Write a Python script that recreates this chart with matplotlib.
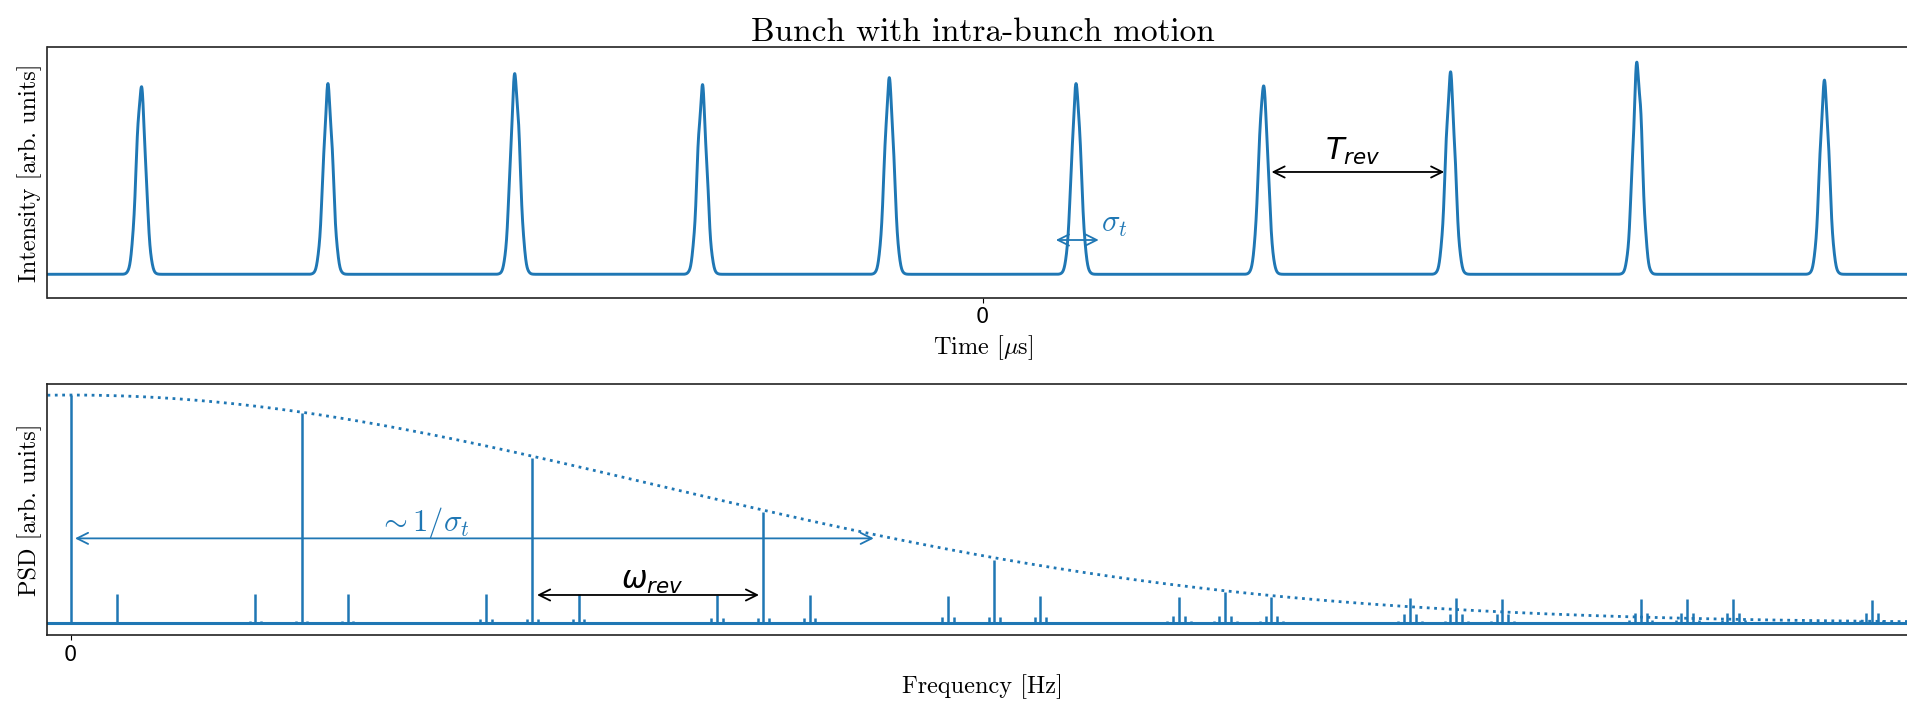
import numpy as np
import matplotlib
matplotlib.use("Agg")
import matplotlib.pyplot as plt

plt.rcParams['mathtext.fontset'] = 'cm'

# ---------------- data ----------------
# Top panel: bunches, time in units of the revolution period (tick shows only 0)
bunch_centres = [-4.5, -3.5, -2.5, -1.5, -0.5, 0.5, 1.5, 2.5, 3.5, 4.5]
bunch_heights = [1.0, 0.996, 1.061, 0.99, 1.036, 1.012, 1.009, 1.058, 1.119, 1.018]
bunch_sigma = 0.025
ripple_amp = [0.03, 0.04, 0.035, 0.045, 0.03, 0.025, 0.02, 0.04, 0.045, 0.035]
ripple_phase = [0.3, 1.9, 2.6, 0.8, 1.4, 2.2, 0.5, 1.1, 2.9, 1.7]
ripple_wavelength = 0.028

# Bottom panel: spectrum lines, frequency in units of f_rev
harmonics = [0, 1, 2, 3, 4, 5, 6, 7, 8]
main_heights = [1.0, 0.92, 0.723, 0.486, 0.277, 0.136, 0.11, 0.105, 0.10]
lower_sideband = [0.0, 0.127, 0.127, 0.125, 0.12, 0.115, 0.11, 0.105, 0.10]
upper_sideband = [0.127, 0.127, 0.127, 0.124, 0.12, 0.115, 0.107, 0.105, 0.10]
sub1_heights = [0.0, 0.009, 0.018, 0.022, 0.029, 0.034, 0.041, 0.044, 0.045]
sub2_heights = [0.0, 0.0, 0.003, 0.004, 0.007, 0.008, 0.012, 0.014, 0.015]
tune = 0.2
sub_spacing = 0.025
envelope_coeff = 0.078

blue = '#1f77b4'
serif = 'cmr10'

fig = plt.figure(figsize=(19.08, 7.03), dpi=100)
W, H = 1908.0, 703.0
left = 47.5 / W
width = (1918.0 - 47.5) / W
ax1 = fig.add_axes([left, (H - 297.7) / H, width, 250.7 / H])
ax2 = fig.add_axes([left, (H - 635.3) / H, width, 251.0 / H])

# ---------------- top panel ----------------
t = np.linspace(-5, 5, 20001)
signal = np.zeros_like(t)
for c, h, a, p in zip(bunch_centres, bunch_heights, ripple_amp, ripple_phase):
    g = np.exp(-0.5 * ((t - c) / bunch_sigma) ** 2)
    signal += h * g * (1 + a * np.sin(2 * np.pi * (t - c) / ripple_wavelength + p))
ax1.plot(t, signal, color=blue, lw=2.1)
ax1.set_xlim(-5, 5)
ax1.set_ylim(-0.127, 1.233)
ax1.set_yticks([])
ax1.set_xticks([0])
ax1.set_xticklabels(['0'], fontsize=15)
ax1.set_title('Bunch with intra-bunch motion', fontfamily=serif, fontsize=24, pad=3)
ax1.set_xlabel(r'Time [$\mu$s]', fontfamily=serif, fontsize=17.5, labelpad=4)
ax1.set_ylabel('Intensity [arb. units]', fontfamily=serif, fontsize=17.5)

ax1.annotate('', xy=(2.467, 0.555), xytext=(1.544, 0.555),
             arrowprops=dict(arrowstyle='<->', color='black', lw=1.3,
                             shrinkA=0, shrinkB=0, mutation_scale=20))
ax1.text(1.98, 0.665, r'$T_{rev}$', fontsize=22, ha='center', va='center',
         math_fontfamily='dejavusans')
ax1.annotate('', xy=(0.62, 0.186), xytext=(0.391, 0.186),
             arrowprops=dict(arrowstyle='<->', color=blue, lw=1.3,
                             shrinkA=0, shrinkB=0, mutation_scale=20))
ax1.text(0.63, 0.27, r'$\sigma_t$', fontsize=22, ha='left', va='center', color=blue)

# ---------------- bottom panel ----------------
freqs, heights = [], []
for n, hm, hl, hu, s1, s2 in zip(harmonics, main_heights, lower_sideband,
                                 upper_sideband, sub1_heights, sub2_heights):
    groups = [(n, hm), (n + tune, hu)]
    if n > 0:
        groups.append((n - tune, hl))
    for f0, h0 in groups:
        freqs.append(f0); heights.append(h0)
        for k, hs in ((1, s1), (2, s2)):
            if hs > 0:
                freqs += [f0 - k * sub_spacing, f0 + k * sub_spacing]
                heights += [hs, hs]

ax2.vlines(freqs, 0, heights, color=blue, lw=1.8)
ax2.axhline(0, color=blue, lw=2.2)
fenv = np.linspace(-0.1, 8.0, 800)
ax2.plot(fenv, np.exp(-envelope_coeff * fenv ** 2), color=blue, lw=2, ls=':')
ax2.set_xlim(-0.1, 8.0)
ax2.set_ylim(-0.0526, 1.047)
ax2.set_yticks([])
ax2.set_xticks([0])
ax2.set_xticklabels(['0'], fontsize=15)
ax2.set_xlabel('Frequency [Hz]', fontfamily=serif, fontsize=17.5, labelpad=7)
ax2.set_ylabel('PSD [arb. units]', fontfamily=serif, fontsize=17.5)

ax2.annotate('', xy=(3.478, 0.372), xytext=(0.019, 0.372),
             arrowprops=dict(arrowstyle='<->', color=blue, lw=1.3,
                             shrinkA=0, shrinkB=0, mutation_scale=20))
ax2.text(1.53, 0.44, r'$\sim 1/\sigma_t$', fontsize=22, ha='center', va='center', color=blue)
ax2.annotate('', xy=(2.981, 0.124), xytext=(2.02, 0.124),
             arrowprops=dict(arrowstyle='<->', color='black', lw=1.3,
                             shrinkA=0, shrinkB=0, mutation_scale=20))
ax2.text(2.52, 0.185, r'$\omega_{rev}$', fontsize=22, ha='center', va='center',
         math_fontfamily='dejavusans')

for ax in (ax1, ax2):
    for s in ax.spines.values():
        s.set_linewidth(1.2)
        s.set_color('#222222')

fig.savefig('out.png', dpi=100)
